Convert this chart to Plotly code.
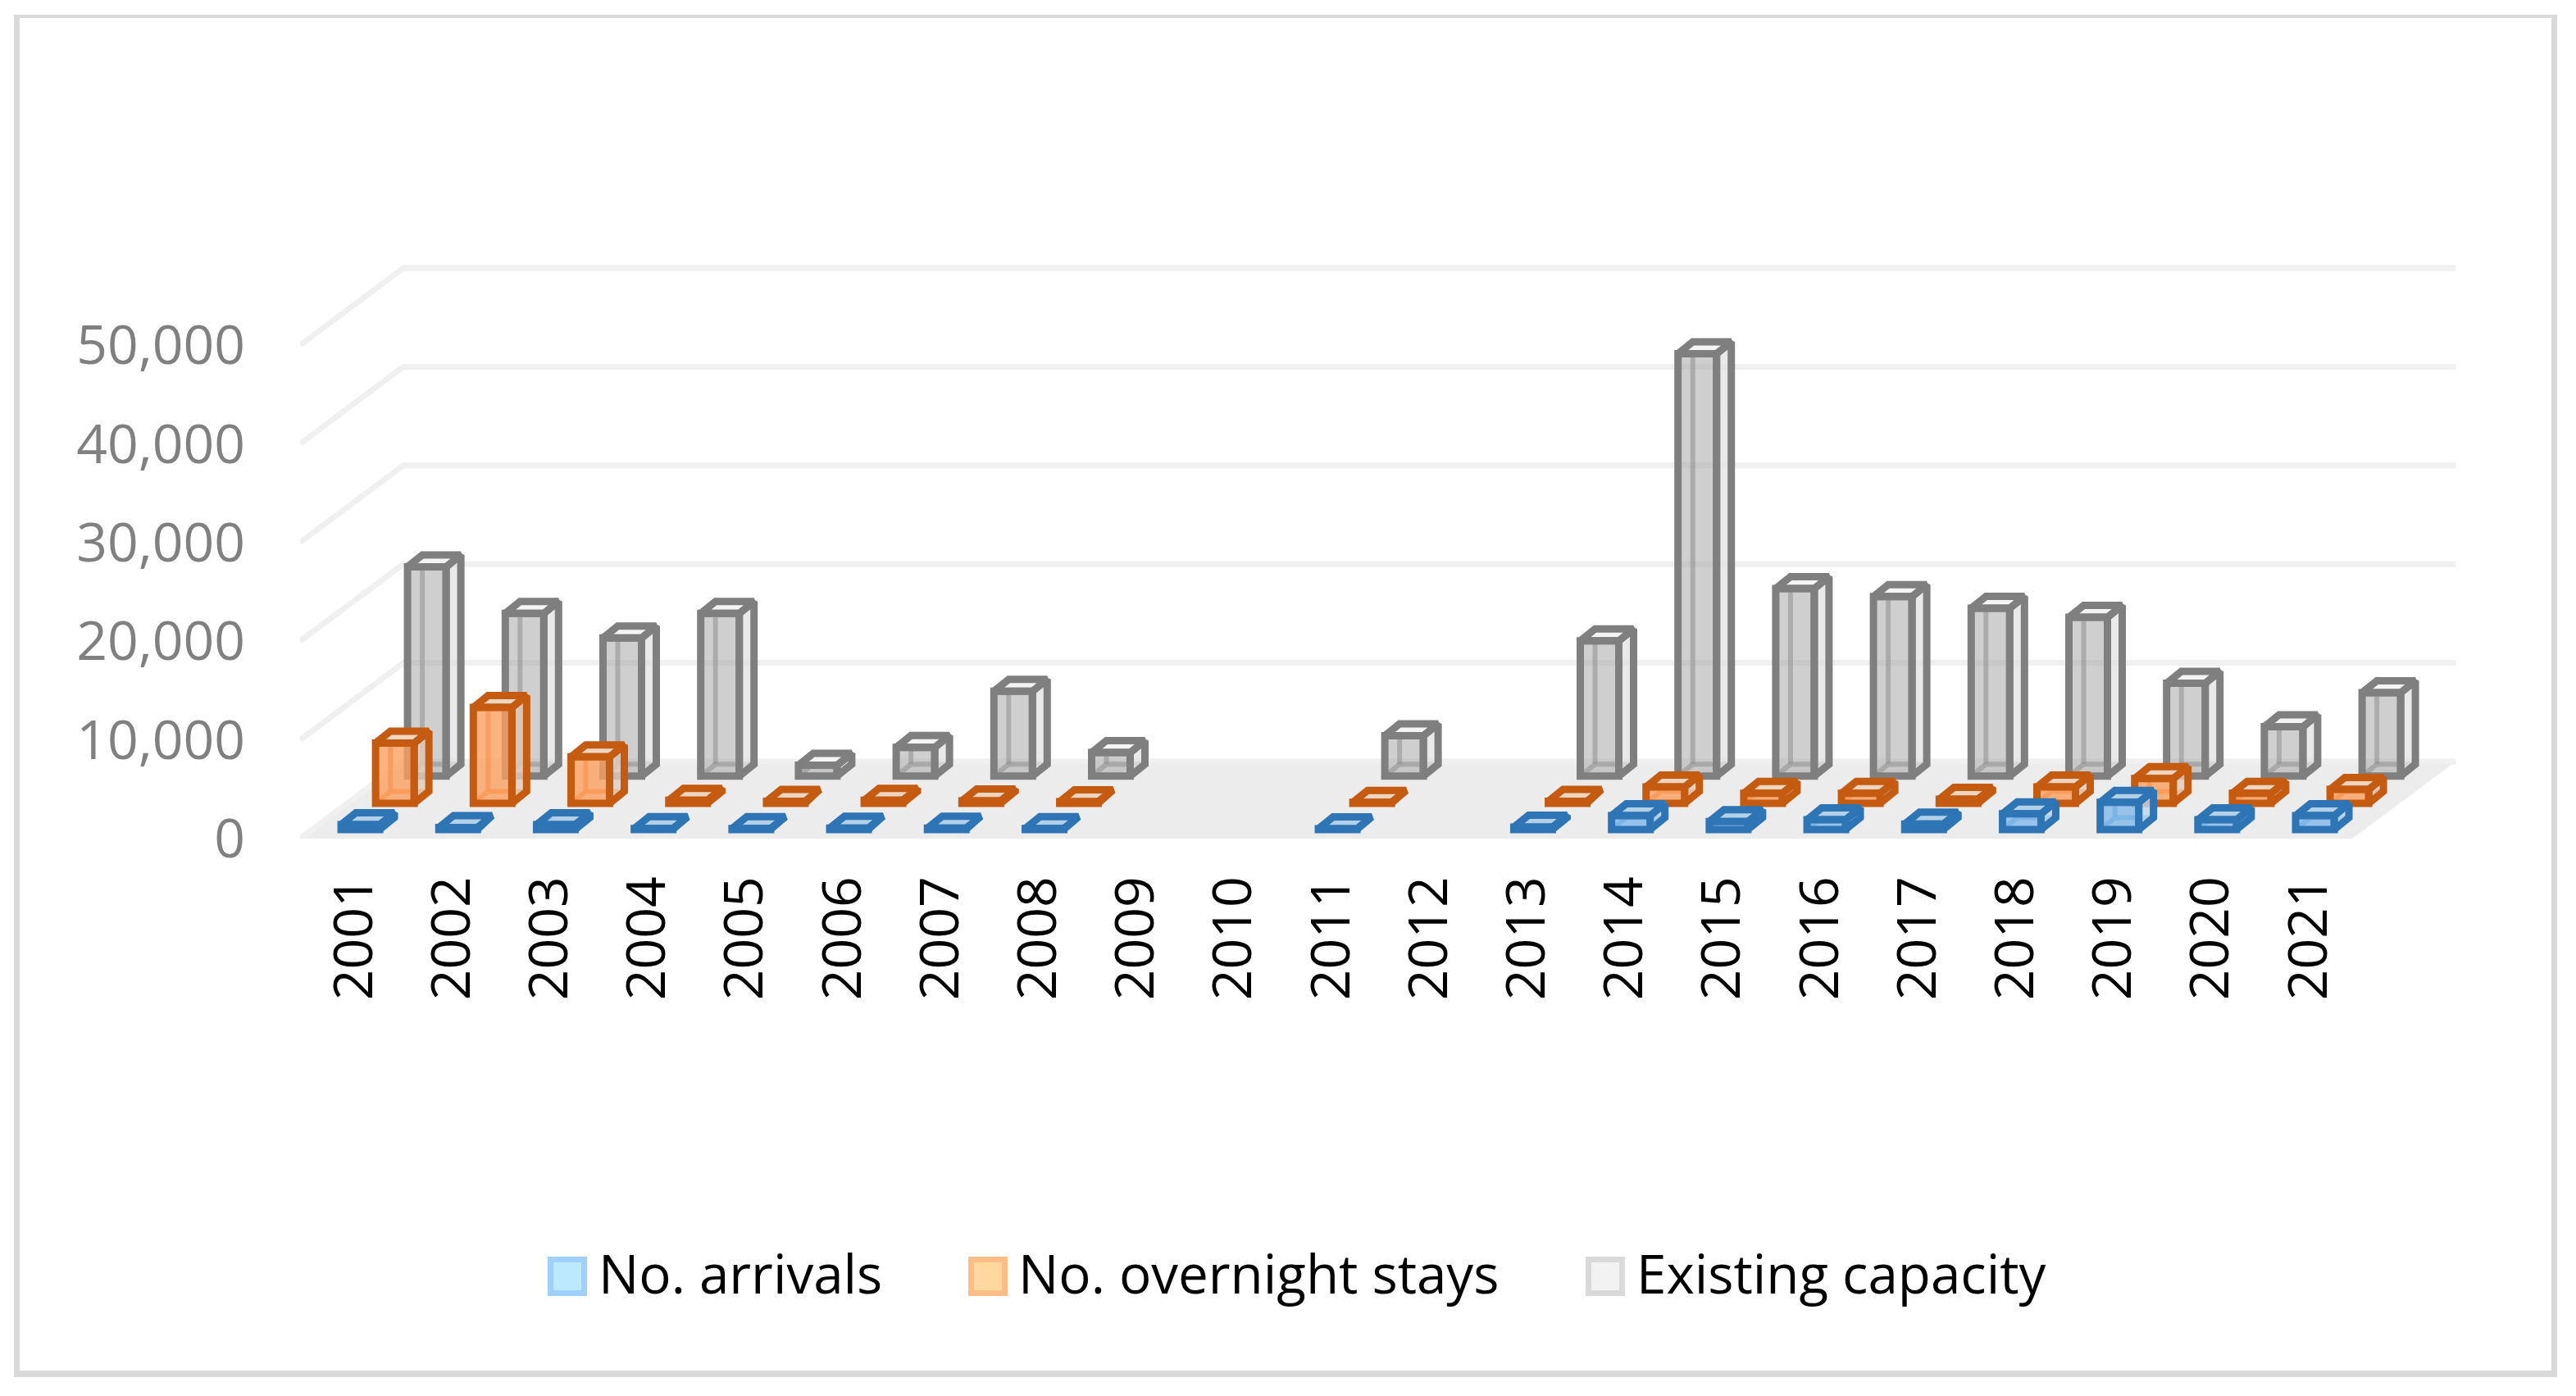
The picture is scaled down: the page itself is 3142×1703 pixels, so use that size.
import plotly.graph_objects as go

W, H = 3142, 1703

# ---- data ----
years = list(range(2001, 2022))
arrivals = [500, 200, 500, 100, 100, 150, 150, 100, None, None, 80, None, 250, 1400, 800, 1000, 550, 1600, 2750, 1000, 1400]
overnight = [6100, 9700, 4700, 300, 200, 300, 250, 150, None, None, 100, None, 200, 1650, 1000, 1000, 400, 1650, 2500, 1000, 1400]
capacity = [21200, 16500, 14000, 16500, 1100, 2900, 8600, 2400, None, None, 4100, None, 13700, 42800, 19000, 18200, 17000, 16100, 9400, 5000, 8450]
y_ticks = [0, 10000, 20000, 30000, 40000, 50000]

series = [
    dict(name="Existing capacity", values=capacity, line="#7f7f7f", front="rgba(160,160,160,0.5)", side="rgba(225,225,225,0.75)",
         back="rgba(127,127,127,0.55)", top="#f4f4f4", shift=0.797, base=6330, zf=2,
         sw_line="#d9d9d9", sw_fill="#f2f2f2", sw_x=1934, legend="legend3"),
    dict(name="No. overnight stays", values=overnight, line="#c55a11", front="rgba(251,160,95,0.8)", side="rgba(225,205,190,0.8)",
         back="rgba(233,125,50,0.8)", top="#edd5c2", shift=0.470, base=3580, zf=4,
         sw_line="#fdbd87", sw_fill="#ffd8a0", sw_x=1181, legend="legend2"),
    dict(name="No. arrivals", values=arrivals, line="#2e75b6", front="rgba(130,185,235,0.8)", side="rgba(190,215,235,0.8)",
         back="rgba(91,155,213,0.85)", top="#b4cfe8", shift=0.117, base=917, zf=6,
         sw_line="#9fd0fb", sw_fill="#bde9ff", sw_x=668, legend="legend"),
]

# ---- projection constants (axis units) ----
STEP_PX = 119.2
PX_PER_UNIT = 120.4 / 10000
L_PX, R_PX, B_PX = 366, 3040, 1023
Y_MAX = 60000
T_PX = B_PX - Y_MAX * PX_PER_UNIT
X0 = 2000.5
X1 = X0 + (R_PX - L_PX) / STEP_PX
FLOOR_DX, FLOOR_DY = 126 / STEP_PX, 94 / PX_PER_UNIT
BAR_W = 47 / STEP_PX
BAR_DX, BAR_DY = 18 / STEP_PX, 14.5 / PX_PER_UNIT
LW = 9
TICK_SHIFT = 0.055


def px(x):
    return x / W


def py(y):
    return 1 - y / H


fig = go.Figure()

# walls / floor as shapes below the traces
xb0, xb1 = X0 + FLOOR_DX, X0 + FLOOR_DX + 21
xf1 = X0 + 21
floor_path = f"M{X0},0 L{xb0},{FLOOR_DY} L{xb1},{FLOOR_DY} L{xf1},0 Z"
shapes = [dict(type="path", path=floor_path, xref="x", yref="y", layer="below",
               fillcolor="#ececec", line=dict(width=0))]
for v in y_ticks:
    shapes.append(dict(type="path", xref="x", yref="y", layer="below",
                       path=f"M{X0},{v} L{xb0},{v + FLOOR_DY} L{xb1},{v + FLOOR_DY}",
                       line=dict(color="#f0f0f0", width=7), fillcolor="rgba(0,0,0,0)"))

# outer frame: four strips of differing thickness
for a, b, c, d in [(17, 3119, 18, 22), (17, 3119, 1672, 1680), (17, 24, 18, 1680), (3112, 3119, 18, 1680)]:
    shapes.append(dict(type="rect", xref="paper", yref="paper", layer="below",
                       x0=px(a), x1=px(b), y0=py(c), y1=py(d),
                       fillcolor="#d9d9d9", line=dict(width=0)))

# legend swatches
for s in series:
    shapes.append(dict(type="rect", xref="paper", yref="paper", layer="below",
                       x0=px(s["sw_x"] + 3.5), x1=px(s["sw_x"] + 44.5), y0=py(1536.5), y1=py(1577.5),
                       fillcolor=s["sw_fill"], line=dict(color=s["sw_line"], width=7)))

for s in series:
    sx, sy, tx, ty, bx, by = [], [], [], [], [], []
    fx, fy, fb = [], [], []
    for yr, v in zip(years, s["values"]):
        if v is None:
            continue
        c = yr + s["shift"]
        b = s["base"]
        x0, x1 = c - BAR_W / 2, c + BAR_W / 2
        fx.append(c); fy.append(v); fb.append(b)
        sx += [x1, x1 + BAR_DX, x1 + BAR_DX, x1, x1, None]
        sy += [b, b + BAR_DY, b + v + BAR_DY, b + v, b, None]
        tx += [x0, x1, x1 + BAR_DX, x0 + BAR_DX, x0, None]
        ty += [b + v, b + v, b + v + BAR_DY, b + v + BAR_DY, b + v, None]
        bx += [x0 + BAR_DX, x0 + BAR_DX, None, x0, x0 + BAR_DX, x1 + BAR_DX, None]
        by += [b + v + BAR_DY, b + BAR_DY, None, b, b + BAR_DY, b + BAR_DY, None]
    z = s["zf"]
    group = s["name"]
    common = dict(mode="lines", hoverinfo="skip", showlegend=False, legendgroup=group, zorder=z)
    fig.add_trace(go.Scatter(x=bx, y=by, line=dict(color=s["back"], width=6), **common))
    fig.add_trace(go.Scatter(x=sx, y=sy, fill="toself", fillcolor=s["side"],
                             line=dict(color=s["line"], width=LW), **common))
    fig.add_trace(go.Scatter(x=tx, y=ty, fill="toself", fillcolor=s["top"],
                             line=dict(color=s["line"], width=LW), **common))
    fig.add_trace(go.Bar(x=fx, y=fy, base=fb, width=BAR_W, name=group, showlegend=False, legendgroup=group,
                         marker=dict(color=s["front"], line=dict(color=s["line"], width=LW)), zorder=z + 1))
    # legend key
    fig.add_trace(go.Bar(x=[None], y=[None], name=group, legendgroup=group, legend=s["legend"],
                         marker=dict(color=s["sw_fill"], line=dict(width=0))))

legend_common = dict(bgcolor="rgba(0,0,0,0)", borderwidth=0, itemwidth=74, yanchor="middle",
                     font=dict(family="Open Sans", size=65.5, color="#000000"),
                     xanchor="left", y=py(1553), orientation="h")

fig.update_layout(
    width=W, height=H,
    autosize=False,
    margin=dict(l=0, r=0, t=0, b=0, pad=0),
    paper_bgcolor="white", plot_bgcolor="rgba(0,0,0,0)",
    barmode="overlay",
    shapes=shapes,
    legend=dict(x=px(646), **legend_common),
    legend2=dict(x=px(1158), **legend_common),
    legend3=dict(x=px(1912), **legend_common),
    showlegend=True,
    xaxis=dict(domain=[px(L_PX), px(R_PX)], range=[X0, X1], tickmode="array",
               tickvals=[y + TICK_SHIFT for y in years],
               ticktext=[str(y) for y in years], tickangle=-90, showgrid=False, zeroline=False, showline=False,
               ticks="", ticklabelstandoff=32, automargin=False,
               tickfont=dict(family="Open Sans", size=66, color="#000000")),
    yaxis=dict(domain=[py(B_PX), py(T_PX)], range=[0, Y_MAX], tickmode="array", tickvals=y_ticks,
               tickformat=",", showgrid=False, zeroline=False, showline=False,
               ticks="", ticklabelstandoff=66, automargin=False,
               tickfont=dict(family="Open Sans", size=66, color="#808080")),
)

fig.write_html("out.html", config=dict(displayModeBar=False),
               post_script="document.body.style.margin='0';document.body.style.overflow='hidden';")
